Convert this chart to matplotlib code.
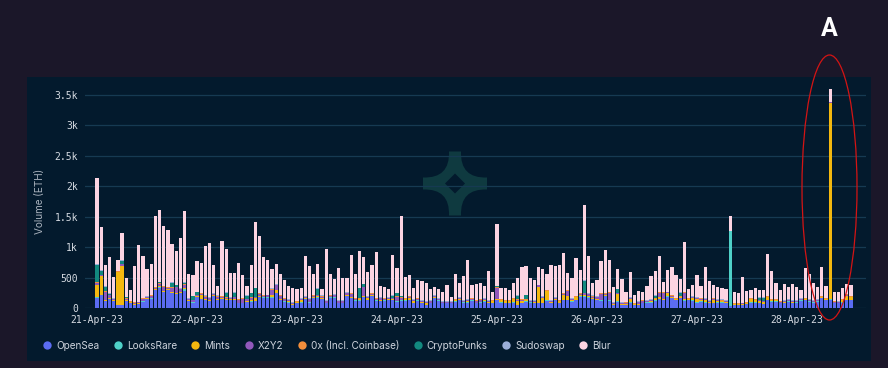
import numpy as np
import matplotlib
matplotlib.use("Agg")
import matplotlib.pyplot as plt
from matplotlib.patches import Rectangle, Ellipse, PathPatch
from matplotlib.path import Path
from matplotlib.lines import Line2D

# hourly volume (ETH), 21-Apr-23 00:00 .. 28-Apr-23 13:00, one value per hour
opensea = [
    175, 220, 120, 150, 120, 55, 55, 120, 80, 55, 65, 110, 150, 160, 300, 340, 270, 300, 245, 235, 255, 290, 120, 95,
    180, 150, 135, 125, 200, 135, 150, 135, 140, 140, 80, 80, 100, 110, 120, 190, 175, 175, 175, 245, 135, 110, 95, 55,
    80, 95, 150, 95, 175, 175, 150, 80, 175, 175, 80, 80, 200, 165, 125, 125, 190, 135, 200, 125, 125, 125, 135, 135, 110,
    125, 125, 135, 80, 125, 80, 55, 80, 165, 125, 80, 80, 80, 110, 135, 95, 95, 125, 80, 95, 110, 80, 80,
    135, 95, 80, 80, 95, 55, 80, 110, 95, 80, 80, 80, 125, 80, 135, 80, 135, 135, 110, 135, 190, 190, 175, 150,
    135, 125, 200, 125, 55, 110, 55, 55, 95, 55, 55, 80, 95, 95, 125, 145, 135, 190, 165, 135, 165, 125, 135, 125,
    95, 110, 95, 80, 80, 95, 95, 80, 45, 55, 55, 55, 70, 95, 95, 80, 70, 135, 110, 110, 80, 80, 110, 80,
    95, 125, 135, 110, 95, 110, 165, 135, 140, 80, 80, 95, 135, 135,
]
looksrare = [
    5, 3, 4, 6, 2, 3, 5, 4, 2, 3, 6, 4, 5, 3, 4, 6, 5, 4, 3, 5, 4, 30, 3, 4,
    4, 5, 3, 2, 4, 3, 5, 6, 3, 4, 2, 3, 5, 4, 6, 3, 4, 5, 3, 4, 2, 3, 4, 3,
    3, 4, 5, 3, 2, 4, 3, 5, 4, 3, 2, 4, 5, 3, 4, 6, 3, 4, 5, 3, 2, 3, 4, 5, 3,
    4, 3, 2, 4, 3, 5, 3, 2, 4, 3, 2, 3, 2, 4, 3, 5, 4, 3, 2, 4, 3, 5, 2,
    5, 3, 2, 4, 3, 5, 4, 3, 2, 3, 4, 5, 3, 4, 3, 5, 6, 4, 3, 5, 4, 6, 5, 3,
    4, 5, 6, 4, 2, 3, 2, 3, 4, 2, 3, 2, 3, 4, 5, 6, 4, 5, 4, 3, 4, 6, 3, 4,
    4, 3, 5, 3, 4, 3, 2, 3, 1215, 3, 2, 4, 3, 4, 3, 4, 3, 5, 4, 3, 2, 4, 3, 4,
    3, 4, 5, 4, 3, 4, 5, 4, 8, 3, 2, 4, 5, 4,
]
mints = [
    205, 300, 20, 15, 10, 545, 640, 15, 15, 20, 15, 10, 10, 10, 15, 20, 15, 15, 15, 15, 10, 10, 10, 10,
    10, 60, 15, 15, 10, 15, 15, 10, 10, 15, 10, 10, 10, 15, 40, 15, 10, 10, 40, 50, 15, 10, 15, 15,
    15, 40, 10, 10, 10, 15, 10, 10, 10, 15, 10, 10, 20, 20, 15, 15, 10, 25, 15, 10, 10, 10, 10, 10, 10,
    10, 20, 40, 40, 10, 20, 30, 10, 10, 10, 10, 10, 10, 20, 10, 10, 20, 10, 10, 10, 20, 20, 30,
    10, 30, 30, 30, 50, 60, 30, 20, 10, 20, 270, 80, 150, 20, 15, 30, 75, 65, 30, 40, 30, 20, 20, 20,
    20, 10, 10, 15, 20, 125, 20, 20, 55, 10, 10, 10, 10, 20, 20, 40, 20, 55, 20, 10, 10, 20, 10, 40,
    60, 30, 40, 20, 60, 20, 20, 20, 5, 10, 10, 10, 10, 50, 30, 40, 30, 40, 20, 20, 10, 20, 10, 20,
    10, 10, 10, 10, 10, 10, 10, 10, 3220, 10, 10, 30, 60, 40,
]
x2y2 = [
    30, 20, 130, 40, 15, 0, 20, 20, 10, 10, 10, 30, 20, 30, 20, 40, 60, 20, 70, 90, 40, 60, 15, 20,
    20, 20, 40, 20, 20, 40, 20, 20, 15, 20, 50, 60, 30, 40, 15, 30, 20, 20, 90, 80, 50, 30, 20, 10,
    10, 10, 20, 40, 20, 20, 30, 20, 20, 20, 20, 20, 25, 50, 15, 10, 140, 15, 20, 15, 30, 15, 15, 15, 70,
    30, 10, 10, 10, 20, 10, 10, 20, 20, 10, 10, 10, 10, 10, 20, 10, 10, 20, 30, 30, 15, 10, 10,
    190, 10, 10, 10, 10, 20, 30, 10, 10, 10, 20, 20, 10, 10, 10, 10, 20, 80, 10, 10, 10, 30, 30, 20,
    20, 100, 20, 110, 10, 10, 10, 10, 10, 10, 30, 30, 10, 10, 10, 60, 100, 10, 20, 10, 10, 100, 10, 10,
    10, 10, 10, 10, 10, 10, 10, 10, 0, 10, 10, 10, 10, 10, 10, 10, 10, 10, 10, 10, 10, 10, 10, 10,
    10, 10, 10, 10, 10, 10, 10, 10, 10, 10, 10, 10, 20, 10,
]
zerox = [
    10, 8, 9, 7, 10, 6, 8, 9, 7, 8, 6, 9, 8, 7, 10, 9, 8, 11, 9, 7, 8, 9, 8, 7,
    9, 8, 7, 10, 8, 9, 7, 8, 9, 7, 10, 8, 6, 9, 7, 8, 9, 7, 8, 10, 9, 8, 7, 9,
    8, 9, 7, 8, 10, 9, 7, 8, 9, 10, 8, 7, 9, 8, 10, 7, 9, 8, 7, 9, 8, 10, 9, 7, 8,
    9, 8, 10, 7, 9, 8, 7, 10, 8, 9, 7, 8, 6, 9, 8, 7, 9, 8, 10, 7, 9, 8, 7,
    8, 9, 10, 7, 8, 9, 7, 8, 10, 9, 8, 7, 9, 8, 10, 7, 8, 9, 7, 8, 9, 8, 7, 10,
    9, 7, 8, 10, 8, 9, 7, 8, 9, 10, 7, 8, 9, 7, 8, 10, 9, 8, 7, 9, 8, 10, 7, 8,
    8, 9, 7, 10, 8, 9, 8, 7, 5, 9, 10, 8, 7, 9, 8, 10, 9, 7, 8, 9, 10, 8, 7, 9,
    8, 9, 10, 7, 8, 9, 8, 7, 6, 9, 8, 10, 7, 8,
]
punks = [
    290, 60, 70, 20, 0, 0, 55, 10, 0, 0, 0, 0, 0, 0, 0, 10, 0, 0, 80, 25, 0, 20, 0, 60,
    40, 0, 0, 0, 0, 0, 0, 80, 0, 70, 0, 0, 50, 70, 140, 0, 0, 0, 0, 0, 0, 0, 0, 0,
    0, 0, 0, 0, 0, 100, 0, 0, 0, 0, 0, 0, 0, 0, 0, 170, 45, 0, 0, 0, 0, 0, 0, 30, 45,
    20, 0, 0, 0, 0, 0, 0, 0, 0, 0, 0, 0, 0, 0, 0, 0, 0, 0, 0, 0, 0, 0, 0,
    10, 0, 0, 0, 0, 60, 0, 60, 0, 0, 0, 0, 0, 0, 0, 0, 0, 0, 0, 0, 0, 200, 0, 0,
    0, 0, 0, 0, 0, 55, 0, 0, 0, 0, 0, 0, 0, 0, 40, 0, 0, 0, 0, 0, 55, 0, 0, 0,
    0, 0, 0, 0, 0, 0, 0, 0, 0, 0, 0, 0, 0, 0, 0, 30, 55, 0, 0, 0, 0, 0, 0, 0,
    0, 0, 0, 0, 0, 0, 0, 0, 0, 0, 0, 0, 0, 0,
]
sudoswap = [
    5, 9, 7, 7, 8, 6, 7, 7, 6, 9, 8, 7, 7, 10, 6, 5, 7, 5, 8, 8, 8, 6, 9, 9,
    7, 7, 10, 8, 8, 8, 8, 6, 8, 9, 8, 9, 9, 7, 7, 9, 7, 8, 9, 6, 9, 9, 9, 8,
    9, 7, 8, 9, 8, 7, 10, 7, 7, 7, 10, 9, 6, 9, 6, 7, 8, 8, 8, 8, 10, 7, 7, 8, 9,
    7, 9, 8, 9, 8, 7, 10, 8, 8, 8, 11, 9, 12, 7, 9, 8, 7, 9, 8, 9, 8, 7, 11,
    7, 8, 8, 9, 9, 6, 9, 9, 8, 8, 8, 8, 8, 8, 7, 8, 6, 7, 10, 7, 7, 6, 8, 7,
    7, 8, 6, 6, 10, 8, 11, 9, 7, 8, 10, 10, 8, 9, 7, 4, 7, 7, 9, 8, 8, 4, 10, 8,
    8, 8, 8, 7, 8, 8, 10, 10, 5, 8, 8, 8, 10, 7, 9, 6, 8, 8, 8, 8, 8, 8, 10, 7,
    9, 7, 5, 9, 9, 7, 7, 9, 6, 8, 10, 6, 8, 8,
]
blur = [
    1425, 720, 345, 590, 350, 170, 445, 320, 185, 590, 920, 680, 445, 505, 1155, 1190, 990, 930, 625, 550, 820, 1175, 390, 335,
    505, 485, 815, 890, 460, 160, 905, 715, 400, 315, 585, 370, 150, 450, 1085, 930, 620, 565, 315, 325, 345, 300, 210, 230,
    195, 170, 650, 535, 330, 390, 110, 835, 335, 245, 530, 360, 225, 620, 395, 600, 430, 405, 455, 750, 175, 175, 130, 660, 400,
    1305, 335, 340, 180, 290, 320, 295, 185, 130, 150, 150, 260, 70, 410, 225, 395, 640, 205, 255, 255, 200, 480, 130,
    1015, 175, 190, 160, 245, 285, 510, 470, 365, 335, 290, 450, 250, 580, 510, 570, 660, 285, 320, 615, 380, 1240, 610, 200,
    270, 525, 700, 515, 250, 320, 370, 155, 420, 120, 170, 130, 230, 390, 390, 600, 155, 355, 450, 370, 215, 825, 140, 180,
    360, 200, 515, 325, 210, 205, 185, 190, 245, 165, 160, 415, 175, 130, 180, 125, 115, 685, 450, 260, 175, 265, 195, 265,
    220, 130, 480, 405, 275, 195, 465, 195, 200, 155, 140, 185, 170, 175,
]

day_labels = ["21-Apr-23", "22-Apr-23", "23-Apr-23", "24-Apr-23",
              "25-Apr-23", "26-Apr-23", "27-Apr-23", "28-Apr-23"]
y_ticks = [0, 500, 1000, 1500, 2000, 2500, 3000, 3500]
y_ticklabels = ["0", "500", "1k", "1.5k", "2k", "2.5k", "3k", "3.5k"]

series = [
    ("OpenSea", opensea, "#5b6cf2"),
    ("LooksRare", looksrare, "#4fd1c8"),
    ("Mints", mints, "#f4b80f"),
    ("X2Y2", x2y2, "#9158bb"),
    ("0x (Incl. Coinbase)", zerox, "#f28e3c"),
    ("CryptoPunks", punks, "#12897f"),
    ("Sudoswap", sudoswap, "#9aaed8"),
    ("Blur", blur, "#fcd4e2"),
]

BG = "#1b1729"
PANEL = "#031a2d"
GRID = "#163a52"
TICK = "#d6dbe2"
W, H = 888, 368


def px(x, y):
    # pixel position -> figure fraction
    return x / W, 1 - y / H


fig = plt.figure(figsize=(W / 100, H / 100), dpi=100, facecolor=BG)

# dark card behind the chart
fig.add_artist(Rectangle(px(27, 361), 844 / W, 284 / H, transform=fig.transFigure,
                         facecolor=PANEL, edgecolor="none", zorder=-3))

# faint watermark star
cx, cy = 455, 183.5
verts = [(cx - 6, cy - 32), (cx + 6, cy - 32), (cx + 5, cy - 5), (cx + 32, cy - 6),
         (cx + 32, cy + 6), (cx + 5, cy + 5), (cx + 6, cy + 32),
         (cx - 6, cy + 32), (cx - 5, cy + 5), (cx - 32, cy + 6),
         (cx - 32, cy - 6), (cx - 5, cy - 5), (cx - 6, cy - 32), (cx - 6, cy - 32)]
codes = [Path.MOVETO, Path.LINETO, Path.CURVE3, Path.CURVE3,
         Path.LINETO, Path.CURVE3, Path.CURVE3,
         Path.LINETO, Path.CURVE3, Path.CURVE3,
         Path.LINETO, Path.CURVE3, Path.CURVE3, Path.CLOSEPOLY]
star = Path([px(*v) for v in verts], codes)
fig.add_artist(PathPatch(star, transform=fig.transFigure, facecolor="#0f3a40",
                         edgecolor="none", zorder=-2))
hole = [px(cx, cy - 10), px(cx + 10, cy), px(cx, cy + 10), px(cx - 10, cy)]
fig.add_artist(plt.Polygon(hole, closed=True, transform=fig.transFigure,
                           facecolor=PANEL, edgecolor="none", zorder=-2))

ax = fig.add_axes([85 / W, (H - 308.3) / H, 781 / W, 225.6 / H])
ax.set_facecolor("none")

x = np.arange(len(opensea))
bottom = np.zeros(len(x))
for name, vals, color in series:
    vals = np.array(vals, dtype=float)
    ax.bar(x, vals, bottom=bottom, width=0.78, color=color, linewidth=0, label=name)
    bottom += vals

ax.set_xlim(-2.9, 184.6)
ax.set_ylim(0, 3700)
ax.set_yticks(y_ticks)
ax.set_yticklabels(y_ticklabels)
ax.set_xticks(np.arange(len(day_labels)) * 24)
ax.set_xticklabels(day_labels)
ax.yaxis.grid(True, color=GRID, linewidth=0.9)
ax.set_axisbelow(True)
ax.tick_params(length=0, colors=TICK, labelsize=7)
ax.tick_params(axis="y", pad=5)
ax.tick_params(axis="x", pad=5)
for lbl in ax.get_xticklabels() + ax.get_yticklabels():
    lbl.set_fontfamily("DejaVu Sans Mono")
for s in ax.spines.values():
    s.set_visible(False)

ax.set_ylabel("Volume (ETH)", fontsize=7.2, color="#a9b2bd", family="Inter")
ax.yaxis.set_label_coords(-0.0512, 0.4725)

handles = [Line2D([], [], marker="o", linestyle="", markersize=6,
                  markerfacecolor=c, markeredgewidth=0) for _, _, c in series]
leg = fig.legend(handles, [n for n, _, _ in series], loc="center left",
                 bbox_to_anchor=px(43, 345.7), ncol=len(series), frameon=False,
                 borderaxespad=0, borderpad=0, handlelength=0.8, handletextpad=0.5,
                 columnspacing=1.45, prop={"family": "Inter", "size": 7.2})
for t in leg.get_texts():
    t.set_color("#cdd3dc")

# annotation highlighting the mint spike
fig.add_artist(Ellipse(px(829.5, 187.5), 55 / W, 265 / H, transform=fig.transFigure,
                       fill=False, edgecolor="#d41414", linewidth=0.9, zorder=5))
fig.text(*px(829.5, 28.5), "A", color="white", fontsize=18, ha="center", va="center",
         family=["Roboto", "DejaVu Sans"], weight="bold")

fig.savefig("out.png", dpi=100, facecolor=BG)
